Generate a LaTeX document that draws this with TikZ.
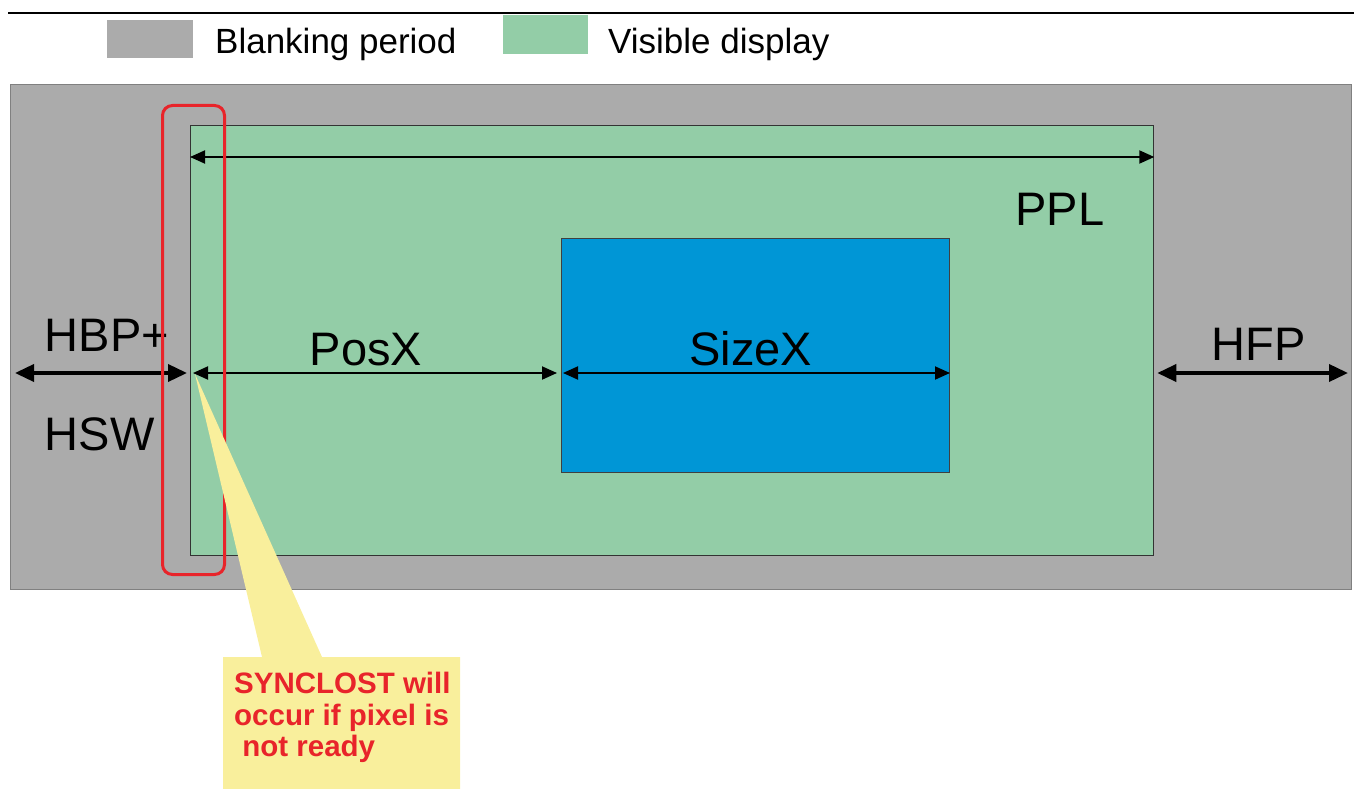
\documentclass[tikz,border=0pt]{standalone}
\usepackage{fontspec}
\setmainfont{Liberation Sans}
\usepackage{xcolor}
\usepackage{tikz}
\usetikzlibrary{positioning}
\usetikzlibrary{calc,arrows.meta}
\definecolor{blankgray}{HTML}{ABABAB}
\definecolor{visgreen}{HTML}{93CDA7}
\definecolor{winblue}{HTML}{0096D6}
\definecolor{syncred}{HTML}{E8242A}
\definecolor{noteyellow}{HTML}{F9EF9C}
\tikzset{
  area/.style = {rectangle, inner sep=0pt, anchor=north west},
  area_b/.style = {area, fill=blankgray, draw=black!50,
     line width=1pt},% blanking period
  area_v/.style = {area, fill=visgreen, draw=black!80,
     line width=1.3pt},% visible display
  area_w/.style = {area, fill=winblue, draw=black!75,
     line width=1pt},% window
  area_s/.style = {area, draw=syncred, line width=3pt,
     rounded corners=10pt},% synclost frame
  key/.style = {rectangle, inner sep=0pt, anchor=north west},
  legend/.style = {font=\fontsize{35}{42}\selectfont, inner sep=0pt},
  lbl/.style = {font=\fontsize{47}{56}\selectfont, inner sep=3pt},
  note/.style = {font=\bfseries\fontsize{29.5}{31.5}\selectfont,
     text=syncred, align=left, inner sep=0pt},
  dim/.style = {{Triangle[length=15pt,width=13pt]}-{Triangle[length=15pt,width=13pt]},
     line width=1.9pt},% thin arrow
  dim_t/.style = {{Triangle[length=19pt,width=17pt]}-{Triangle[length=19pt,width=17pt]},
     line width=3.6pt}% thick arrow
}
\begin{document}
\begin{tikzpicture}[x=1pt,y=-1pt]
\useasboundingbox (0,0) rectangle (1354,789);
% legende
\draw[line width=2pt] (8,13) -- (1354,13);
\node[key, fill=blankgray, minimum width=86pt, minimum height=38pt] (key_b) at (107,20) {};
\node[legend, anchor=base west] (txt_b) at (215,54) {Blanking period};
\node[key, fill=visgreen, minimum width=85pt, minimum height=39pt] (key_v) at (503,15) {};
\node[legend, anchor=base west] (txt_v) at (608,54) {Visible display};
% zones
\node[area_b, minimum width=1341pt, minimum height=505pt] (blank) at (10,84) {};
\node[area_v, minimum width=963pt, minimum height=430pt] (visible) at (190,125) {};
\node[area_w, minimum width=388pt, minimum height=234pt] (window) at (561,238) {};
\coordinate (ppl) at (0,157);
\coordinate (row) at (0,373);
% fleches
\draw[dim] (visible.west |- ppl) -- node[lbl, pos=0.902, below=32pt] (lbl_ppl) {PPL}
  (visible.east |- ppl);
\draw[dim_t] ([xshift=5pt]blank.west |- row) --
  node[lbl, at start, above right=17pt and 25pt] (lbl_hbp) {HBP+}
  node[lbl, at start, below right=40pt and 25pt] (lbl_hsw) {HSW}
  ([xshift=-3pt]visible.west |- row);
\draw[dim] ([xshift=3pt]visible.west |- row) -- node[lbl, pos=0.475, above=3pt] (lbl_posx) {PosX}
  ([xshift=-4pt]window.west |- row);
\draw[dim] ([xshift=2pt]window.west |- row) -- node[lbl, pos=0.485, above=3pt] (lbl_sizex) {SizeX}
  (window.east |- row);
\draw[dim_t] ([xshift=3pt]visible.east |- row) -- node[lbl, pos=0.53, above=8pt] (lbl_hfp) {HFP}
  ([xshift=-4pt]blank.east |- row);
% synclost
\node[area_s, minimum width=62pt, minimum height=469pt] (sync) at (161,104) {};
\coordinate (tip) at (195,374);
\fill[noteyellow] (tip) -- (262,657) -- (223,657) -- (223,800) -- (460,800)
  -- (460,657) -- (322,657) -- cycle;
\node[note, anchor=north west] (msg) at (234,672) {SYNCLOST will\\occur if pixel is\\~not ready};
\end{tikzpicture}
\end{document}
